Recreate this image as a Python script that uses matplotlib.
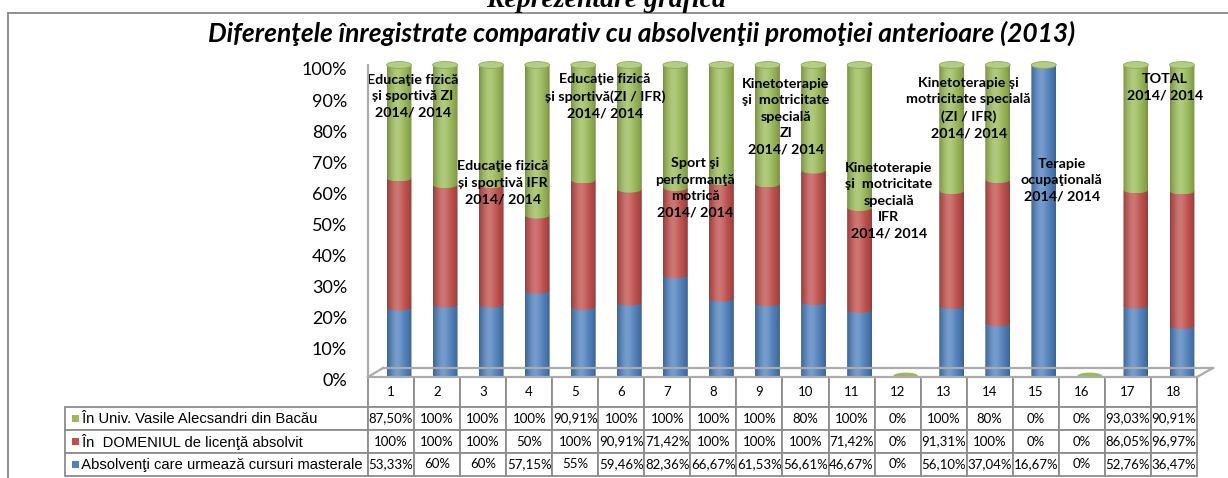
import numpy as np
import matplotlib
matplotlib.use("Agg")
import matplotlib.pyplot as plt
from matplotlib.patches import PathPatch, Ellipse, Rectangle
from matplotlib.path import Path
from matplotlib.lines import Line2D
from matplotlib.colors import to_rgb
from matplotlib.transforms import ScaledTranslation

# ---------------- data ----------------
categories = [str(i) for i in range(1, 19)]
series_names = ["În Univ. Vasile Alecsandri din Bacău",
                "În  DOMENIUL de licenţă absolvit",
                "Absolvenţi care urmează cursuri masterale"]
univ = [87.50, 100, 100, 100, 90.91, 100, 100, 100, 100, 80, 100, 0, 100, 80, 0, 0, 93.03, 90.91]
domeniu = [100, 100, 100, 50, 100, 90.91, 71.42, 100, 100, 100, 71.42, 0, 91.31, 100, 0, 0, 86.05, 96.97]
master = [53.33, 60, 60, 57.15, 55, 59.46, 82.36, 66.67, 61.53, 56.61, 46.67, 0, 56.10, 37.04, 16.67, 0, 52.76, 36.47]
yticks = list(range(0, 101, 10))

title_top = "Reprezentare grafică"
title = "Diferenţele înregistrate comparativ cu absolvenţii promoţiei anterioare (2013)"
annotations = [
    "Educaţie fizică\nși sportivă ZI\n2014/ 2014",
    "Educaţie fizică\nși sportivă IFR\n2014/ 2014",
    "Educaţie fizică\nși sportivă(ZI / IFR)\n2014/ 2014",
    "Sport şi\nperformanţă\nmotrică\n2014/ 2014",
    "Kinetoterapie\nşi  motricitate\nspecială\nZI\n2014/ 2014",
    "Kinetoterapie\nşi  motricitate\nspecială\nIFR\n2014/ 2014",
    "Kinetoterapie şi\nmotricitate specială\n(ZI / IFR)\n2014/ 2014",
    "Terapie\nocupaţională\n2014/ 2014",
    "TOTAL\n2014/ 2014",
]
# layout positions of the annotation blocks (x in category units, y in %)
annot_pos = [(1.30, 90.0), (3.26, 62.1), (5.47, 89.9), (7.43, 60.5), (9.40, 83.3),
             (11.63, 56.4), (13.37, 86.2), (15.39, 63.0), (17.63, 93.0)]

# ---------------- style ----------------
COL_BLUE, COL_RED, COL_GREEN = "#4F81BD", "#C0504D", "#9BBB59"
seg_colors = [COL_BLUE, COL_RED, COL_GREEN]
CAP = "#B3CD84"
GRID = "#8C8C8C"
W, H = 1228, 478


def fx(px):
    return px / W


def fy(py):
    return 1 - py / H


def fmt(v):
    if float(v).is_integer():
        return f"{int(v)}%"
    return f"{v:.2f}%".replace(".", ",")


def shade(hexcol, n=64):
    base = np.array(to_rgb(hexcol))
    t = np.linspace(0, 1, n)
    edge = 0.74 + 0.26 * np.sin(np.pi * t) ** 0.6
    hl = np.exp(-((t - 0.4) / 0.25) ** 2)
    col = base[None, :] * edge[:, None]
    col = col + (1 - col) * 0.22 * hl[:, None]
    return np.clip(col, 0, 1)[None, :, :]


fig = plt.figure(figsize=(W / 100, H / 100), dpi=100)
fig.patch.set_facecolor("white")

# frame
fig.add_artist(Line2D([fx(8), fx(1228)], [fy(12.7), fy(12.7)], transform=fig.transFigure, color="#888888", lw=1.3))
fig.add_artist(Line2D([fx(8), fx(8)], [fy(12.7), fy(478)], transform=fig.transFigure, color="#888888", lw=1.3))

# titles
fig.text(fx(606), fy(7), title_top, ha="center", va="baseline", family="Liberation Serif",
         weight="bold", style="italic", fontsize=20)
fig.text(fx(642), fy(33), title, ha="center", va="center", family="Lato",
         weight="bold", style="italic", fontsize=19)

# 3D-ish floor and wall
deco = dict(transform=fig.transFigure, color="#ABABAB", lw=1.6)
fig.add_artist(Line2D([fx(368), fx(368)], [fy(65), fy(377)], **deco))
fig.add_artist(Line2D([fx(368), fx(1197)], [fy(377), fy(377)], **deco))
fig.add_artist(Line2D([fx(383), fx(1213)], [fy(368), fy(368)], **deco))
fig.add_artist(Line2D([fx(368), fx(383)], [fy(377), fy(368)], **deco))
fig.add_artist(Line2D([fx(1197), fx(1213)], [fy(377), fy(368)], **deco))

# main axes: 0% -> 376px, 100% -> 65px
s = 311 / 100.0
ylo, yhi = -2, 103
ax = fig.add_axes([fx(376), fy(376 - ylo * s), 829 / W, (yhi - ylo) * s / H])
ax.patch.set_alpha(0)
for sp in ax.spines.values():
    sp.set_visible(False)

x = np.arange(1, 19)
hw = 0.27
eh = 1.1
th = np.linspace(np.pi, 2 * np.pi, 40)
for i, xc in enumerate(x):
    vals = [master[i], domeniu[i], univ[i]]
    tot = sum(vals)
    if tot == 0:
        ax.add_patch(Ellipse((xc, 0), 2 * hw, 2 * eh, facecolor=COL_GREEN, edgecolor="none", zorder=8))
        continue
    fr = np.cumsum([0] + vals) / tot * 100
    for k in range(3):
        y0, y1 = fr[k], fr[k + 1]
        if y1 - y0 <= 0:
            continue
        arc = np.c_[xc + hw * np.cos(th), y0 + eh * np.sin(th)]
        verts = np.vstack([[xc - hw, y1], arc, [xc + hw, y1], [xc - hw, y1]])
        patch = PathPatch(Path(verts), transform=ax.transData, facecolor="none", edgecolor="none")
        im = ax.imshow(shade(seg_colors[k]), extent=[xc - hw, xc + hw, y0 - eh, y1],
                       aspect="auto", interpolation="bilinear", zorder=3 + k)
        im.set_clip_path(patch)
    ax.add_patch(Ellipse((xc, 100), 2 * hw, 2 * eh, facecolor=CAP, edgecolor="#8FAA55", lw=0.6, zorder=9))

for txt, (px_, py_) in zip(annotations, annot_pos):
    ax.text(px_, py_, txt, ha="center", va="center", multialignment="center",
            family="Lato", weight="bold", fontsize=10.3, linespacing=1.45, zorder=20)

ax.set_xlim(0.5, 18.5)
ax.set_ylim(ylo, yhi)
ax.set_xticks([])
ax.set_yticks(yticks)
ax.set_yticklabels([f"{v}%" for v in yticks])
ax.tick_params(axis="y", length=0, pad=29 * 0.72, labelsize=13)
for lab in ax.get_yticklabels():
    lab.set_family("Lato")
    lab.set_transform(lab.get_transform() + ScaledTranslation(0, -0.04, fig.dpi_scale_trans))

# ---------------- data table ----------------
tax = fig.add_axes([fx(65), fy(476), (1197 - 65) / W, (476 - 377) / H])
tax.axis("off")
rows = [univ, domeniu, master]
cell_text = [[""] + categories] + [[" " + series_names[r]] + [fmt(v) for v in rows[r]] for r in range(3)]
total_w = 1197 - 65
col_w = [303 / total_w] + [(total_w - 303) / 18 / total_w] * 18
tbl = tax.table(cellText=cell_text, colWidths=col_w, bbox=[0, 0, 1, 1], cellLoc="center")
tbl.auto_set_font_size(False)
for (r, c), cell in tbl.get_celld().items():
    cell.set_edgecolor(GRID)
    cell.set_linewidth(1.3)
    cell.set_facecolor("white")
    cell.set_height(30 / 99 if r == 0 else 23 / 99)
    t = cell.get_text()
    if c == 0:
        if r == 0:
            cell.visible_edges = ""
        else:
            cell.PAD = 13 / 303
            t.set_ha("left")
            cell._loc = "left"
            t.set_family("Liberation Sans")
            t.set_fontsize(10.6)
    else:
        t.set_family("Lato")
        t.set_fontsize(9.5)

row_cy = [418.5, 441.5, 464.5]
sq_cols = [COL_GREEN, COL_RED, COL_BLUE]
for cy, cc in zip(row_cy, sq_cols):
    tax.add_patch(Rectangle(((72 - 65) / total_w, (476 - cy - 3.5) / 99), 7 / total_w, 7 / 99,
                            transform=tax.transAxes, facecolor=cc, edgecolor="none", clip_on=False, zorder=10))

fig.savefig("out.png", dpi=100)
